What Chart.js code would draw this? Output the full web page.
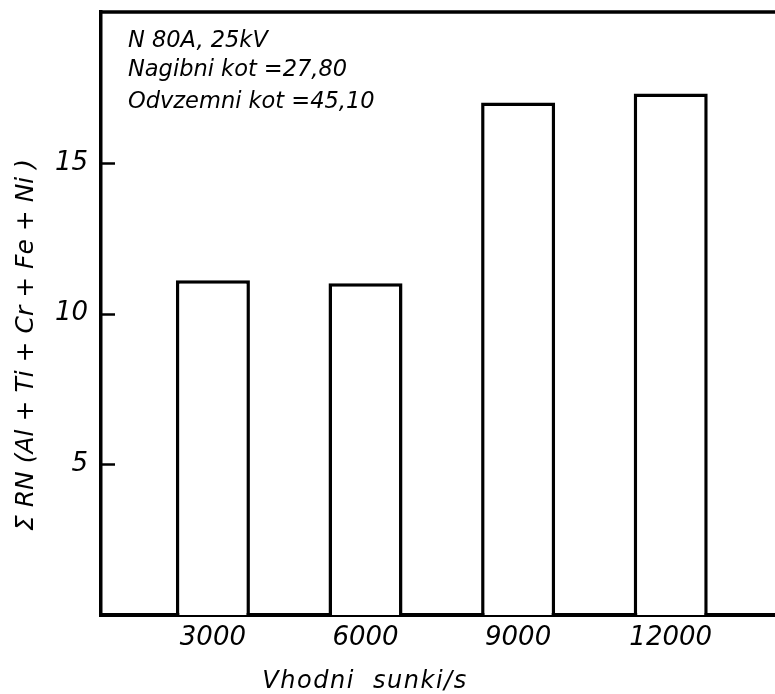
<!DOCTYPE html>
<html>
<head>
<meta charset="utf-8">
<script src="https://cdn.jsdelivr.net/npm/chart.js@4/dist/chart.umd.min.js"></script>
<style>
  html, body { margin: 0; padding: 0; background: #fff; }
  canvas { display: block; }
</style>
</head>
<body>
<canvas id="c" width="775" height="694"></canvas>
<script>
// Impulse rate (pulses per second) and summed yield for each run
const pulseRates = [3000, 6000, 9000, 12000];
const sumRN = [11.1, 11.0, 17.0, 17.3];

// Axis ticks
const xTicks = [3000, 6000, 9000, 12000];
const yTicks = [5, 10, 15];

// Labels
const xTitle = 'Vhodni  sunki/s';
const yTitle = 'Σ RN (Al + Ti + Cr + Fe + Ni )';
const noteLines = ['N 80A, 25kV', 'Nagibni kot =27,80', 'Odvzemni kot =45,10'];

const FONT = '"DejaVu Sans", "Liberation Sans", sans-serif';
const INK = '#000';

// Frame top edge, inward tick marks, axis titles and the note block
const decorations = {
  id: 'decorations',
  afterDraw(chart) {
    const { ctx, chartArea: a, scales } = chart;
    ctx.save();
    ctx.strokeStyle = INK;
    ctx.fillStyle = INK;

    // top edge of the frame
    ctx.lineWidth = 3.5;
    ctx.beginPath();
    ctx.moveTo(a.left - 1.5, a.top);
    ctx.lineTo(a.right + 2, a.top);
    ctx.stroke();

    // short tick marks pointing into the plot
    ctx.lineWidth = 2.5;
    scales.y.ticks.forEach(t => {
      const py = Math.round(scales.y.getPixelForValue(t.value)) + 0.5;
      ctx.beginPath();
      ctx.moveTo(a.left, py);
      ctx.lineTo(a.left + 14, py);
      ctx.stroke();
    });

    // x title
    ctx.font = 'italic 24px ' + FONT;
    ctx.letterSpacing = '1.5px';
    ctx.textAlign = 'center';
    ctx.textBaseline = 'alphabetic';
    ctx.fillText(xTitle, a.left + 264, a.bottom + 73);
    ctx.letterSpacing = '0px';

    // y title, rotated
    ctx.save();
    ctx.translate(a.left - 75, a.top + 333);
    ctx.rotate(-Math.PI / 2);
    ctx.font = 'italic 25px ' + FONT;
    ctx.textAlign = 'center';
    ctx.textBaseline = 'middle';
    ctx.fillText(yTitle, 0, 0);
    ctx.restore();

    // note block in the upper left
    ctx.font = 'italic 22.5px ' + FONT;
    ctx.textAlign = 'left';
    ctx.textBaseline = 'alphabetic';
    const baselines = [35, 64, 96];
    noteLines.forEach((s, i) => ctx.fillText(s, a.left + 27, a.top + baselines[i]));

    ctx.restore();
  }
};

new Chart(document.getElementById('c'), {
  type: 'bar',
  data: {
    datasets: [{
      data: pulseRates.map((x, i) => ({ x: x, y: sumRN[i] })),
      backgroundColor: '#fff',
      borderColor: INK,
      borderWidth: 3.5,
      borderSkipped: 'start',
      barPercentage: 0.485,
      categoryPercentage: 1
    }]
  },
  options: {
    responsive: false,
    devicePixelRatio: 1,
    animation: false,
    layout: { padding: { top: 12, right: 0, left: 0, bottom: 0 } },
    plugins: { legend: { display: false }, tooltip: { enabled: false } },
    scales: {
      x: {
        type: 'linear',
        min: 800,
        max: 14050,
        offset: false,
        afterBuildTicks(s) { s.ticks = xTicks.map(v => ({ value: v })); },
        afterFit(s) { s.height = 79; s.paddingLeft = 0; s.paddingRight = 0; },
        grid: { display: true, drawOnChartArea: false, drawTicks: false, offset: false },
        border: { display: true, color: INK, width: 4 },
        ticks: {
          color: INK,
          padding: 8,
          maxRotation: 0,
          autoSkip: false,
          font: { family: FONT, size: 26, style: 'italic' },
          callback: v => String(v)
        }
      },
      y: {
        min: 0,
        max: 20,
        afterBuildTicks(s) { s.ticks = yTicks.map(v => ({ value: v })); },
        afterFit(s) { s.width = 101; s.paddingTop = 0; s.paddingBottom = 0; },
        grid: { display: true, drawOnChartArea: false, drawTicks: false },
        border: { display: true, color: INK, width: 3.5 },
        ticks: {
          color: INK,
          padding: 13,
          font: { family: FONT, size: 26, style: 'italic' },
          callback: v => String(v)
        }
      }
    }
  },
  plugins: [decorations]
});
</script>
</body>
</html>
